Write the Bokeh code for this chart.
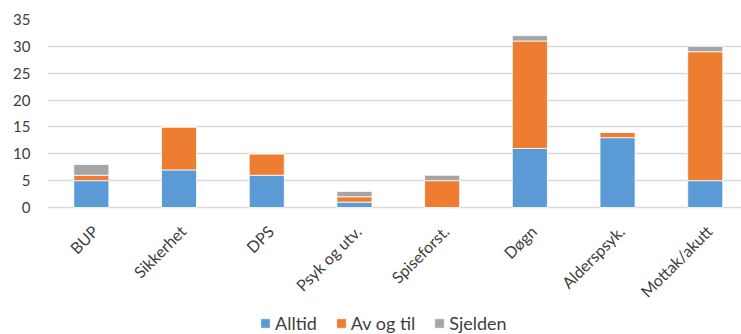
import math
from bokeh.plotting import figure
from bokeh.models import Range1d, FixedTicker, Legend, LegendItem, ColumnDataSource
from bokeh.core.properties import value
from bokeh.embed import file_html
from bokeh.resources import INLINE

categories = ["BUP", "Sikkerhet", "DPS", "Psyk og utv.", "Spiseforst.", "Døgn", "Alderspsyk.", "Mottak/akutt"]
alltid = [5, 7, 6, 1, 0, 11, 13, 5]
av_og_til = [1, 8, 4, 1, 5, 20, 1, 24]
sjelden = [2, 0, 0, 1, 1, 1, 0, 1]
series = ["Alltid", "Av og til", "Sjelden"]
colors = ["#5B9BD5", "#ED7D31", "#A5A5A5"]
y_ticks = [0, 5, 10, 15, 20, 25, 30, 35]

xpos = [i + 0.5 for i in range(len(categories))]
source = ColumnDataSource(dict(x=xpos, **{"Alltid": alltid, "Av og til": av_og_til, "Sjelden": sjelden}))
label_src = ColumnDataSource(dict(x=xpos, y=[0] * len(categories), text=categories))

FONT = "Lato"
TXT = "#404040"
GRID = "#D9D9D9"

FRAME_H = 315
PX_PER_UNIT = 188 / 35.0
y_start = -(FRAME_H - 188) / PX_PER_UNIT

p = figure(frame_width=694, frame_height=FRAME_H, output_backend="svg", toolbar_location=None,
           x_range=Range1d(0, 694 / 87.7), y_range=Range1d(y_start, 35),
           min_border_left=47, min_border_top=19, min_border_right=0, min_border_bottom=0)

renderers = p.vbar_stack(series, x="x", width=0.4, fill_color=colors,
                         line_color="white", line_width=0.8, source=source)

p.text(x="x", y="y", text="text", source=label_src, angle=math.pi / 4,
       text_align="right", text_baseline="top", x_offset=-3, y_offset=14,
       text_font=value(FONT), text_font_size="16px", text_color=TXT)

p.xaxis.visible = False

p.yaxis.ticker = FixedTicker(ticks=y_ticks)
p.yaxis.axis_line_color = None
p.yaxis.major_tick_line_color = None
p.yaxis.minor_tick_line_color = None
p.yaxis.major_tick_out = 0
p.yaxis.major_label_standoff = 17
p.yaxis.major_label_text_font = FONT
p.yaxis.major_label_text_font_size = "15px"
p.yaxis.major_label_text_color = TXT

p.xgrid.grid_line_color = None
p.ygrid.grid_line_color = GRID
p.ygrid.grid_line_width = 1.5
p.outline_line_color = None

legend = Legend(items=[LegendItem(label=s, renderers=[r]) for s, r in zip(series, renderers)],
                orientation="horizontal", location=(212, 0))
legend.label_text_font = FONT
legend.label_text_font_size = "18px"
legend.label_text_color = TXT
legend.glyph_width = 12
legend.glyph_height = 12
legend.label_standoff = 4
legend.spacing = 18
legend.padding = 0
legend.margin = 0
legend.border_line_color = None
legend.background_fill_alpha = 0
p.add_layout(legend)

open("out.html", "w").write(file_html(p, INLINE))
